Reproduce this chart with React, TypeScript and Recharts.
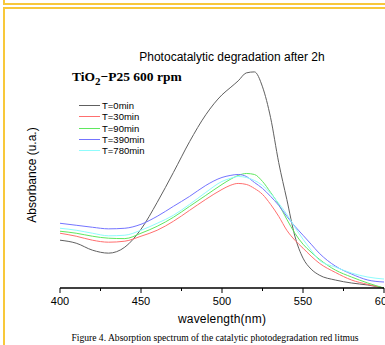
import { LineChart, Line, XAxis, YAxis } from 'recharts';

const wavelengths = [
  400, 410, 420, 430, 440, 450, 460, 470, 480, 490, 500, 505, 510, 515, 520,
  525, 530, 535, 540, 545, 550, 555, 560, 570, 580, 590, 600,
];

const t0 = [
  0.24, 0.225, 0.19, 0.175, 0.205, 0.295, 0.43, 0.58, 0.735, 0.87, 0.97, 1.005,
  1.04, 1.08, 1.085, 1.01, 0.855, 0.63, 0.445, 0.26, 0.15, 0.095, 0.065, 0.04,
  0.025, 0.015, 0.0,
];
const t30 = [
  0.275, 0.26, 0.24, 0.23, 0.235, 0.26, 0.29, 0.335, 0.39, 0.445, 0.495, 0.515,
  0.525, 0.52, 0.5, 0.47, 0.42, 0.36, 0.29, 0.24, 0.2, 0.16, 0.125, 0.078,
  0.04, 0.018, 0.0,
];
const t90 = [
  0.285, 0.275, 0.26, 0.25, 0.248, 0.275, 0.31, 0.355, 0.41, 0.465, 0.52,
  0.545, 0.565, 0.575, 0.57, 0.535, 0.48, 0.42, 0.345, 0.275, 0.22, 0.18,
  0.145, 0.09, 0.055, 0.025, 0.0,
];
const t390 = [
  0.325, 0.315, 0.305, 0.297, 0.3, 0.32, 0.36, 0.41, 0.46, 0.515, 0.555, 0.565,
  0.57, 0.56, 0.53, 0.5, 0.46, 0.415, 0.36, 0.31, 0.265, 0.22, 0.175, 0.11,
  0.07, 0.04, 0.03,
];
const t780 = [
  0.3, 0.29, 0.275, 0.262, 0.265, 0.29, 0.325, 0.365, 0.42, 0.48, 0.535, 0.55,
  0.56, 0.555, 0.54, 0.515, 0.475, 0.425, 0.37, 0.305, 0.245, 0.19, 0.14,
  0.105, 0.075, 0.055, 0.045,
];

const xTicks = [400, 425, 450, 475, 500, 525, 550, 575, 600];
const majorTicks = [400, 450, 500, 550, 600];

const series = [
  { key: 't0', name: 'T=0min', color: '#606060' },
  { key: 't30', name: 'T=30min', color: '#ff6f6f' },
  { key: 't90', name: 'T=90min', color: '#5fe85f' },
  { key: 't390', name: 'T=390min', color: '#7474ff' },
  { key: 't780', name: 'T=780min', color: '#8ffcfc' },
];

const data = wavelengths.map((w, i) => ({
  w,
  t0: t0[i],
  t30: t30[i],
  t90: t90[i],
  t390: t390[i],
  t780: t780[i],
}));

const sans = '"Liberation Sans", Arial, sans-serif';
const serif = '"Liberation Serif", "Times New Roman", serif';
const frame = '#f8c83a';

function XTick(props: any) {
  const { x, y, payload } = props;
  const major = majorTicks.includes(payload.value);
  return (
    <g>
      <line x1={x} x2={x} y1={y - 8} y2={y - 8 + (major ? 5 : 3)} stroke="#000" strokeWidth={1} />
      {major && (
        <text x={x} y={y + 9} textAnchor="middle" fontSize={11} fontFamily={sans} fill="#000">
          {payload.value}
        </text>
      )}
    </g>
  );
}

// legend drawn as a plain overlay so it doesn't eat plot space
function SeriesLegend() {
  return (
    <div style={{ position: 'absolute', left: 79, top: 100, fontFamily: sans, fontSize: 9.5, color: '#000' }}>
      {series.map((s) => (
        <div key={s.key} style={{ display: 'flex', alignItems: 'center', height: 11.3 }}>
          <div style={{ width: 21, height: 1, background: s.color, marginRight: 2 }} />
          <span>{s.name}</span>
        </div>
      ))}
    </div>
  );
}

export default function App() {
  return (
    <div style={{ position: 'absolute', left: 0, top: 0, width: 385, height: 345, background: '#fff', overflow: 'hidden' }}>
      {/* frame pieces */}
      <div style={{ position: 'absolute', left: 3, top: 0, width: 2, height: 5, background: frame }} />
      <div style={{ position: 'absolute', left: 3, top: 3, width: 382, height: 2, background: frame }} />
      <div style={{ position: 'absolute', left: 3, top: 7, width: 382, height: 2, background: frame }} />
      <div style={{ position: 'absolute', left: 3, top: 7, width: 2, height: 338, background: frame }} />

      <LineChart
        width={385}
        height={345}
        data={data}
        margin={{ top: 49, right: 1, bottom: 56, left: 60 }}
        style={{ position: 'absolute', left: 0, top: 0 }}
      >
        <XAxis
          dataKey="w"
          type="number"
          domain={[400, 600]}
          ticks={xTicks}
          interval={0}
          tickLine={false}
          tick={<XTick />}
          axisLine={{ stroke: '#000', strokeWidth: 1.5 }}
          height={1}
        />
        <YAxis hide domain={[0, 1.2]} />
        {series.map((s) => (
          <Line
            key={s.key}
            type="monotone"
            dataKey={s.key}
            name={s.name}
            stroke={s.color}
            strokeWidth={1}
            dot={false}
            isAnimationActive={false}
          />
        ))}
      </LineChart>

      <SeriesLegend />
      <div style={{ position: 'absolute', left: 0, width: 464, top: 50, textAlign: 'center', fontFamily: sans, fontSize: 12 }}>
        Photocatalytic degradation after 2h
      </div>
      <div style={{ position: 'absolute', left: 72, top: 69, fontFamily: serif, fontWeight: 'bold', fontSize: 13.5 }}>
        TiO<sub style={{ fontSize: 11, verticalAlign: -4 }}>2</sub>−P25 600 rpm
      </div>
      <div
        style={{
          position: 'absolute',
          left: 32,
          top: 175,
          transform: 'translate(-50%, -50%) rotate(-90deg)',
          whiteSpace: 'nowrap',
          fontFamily: sans,
          fontSize: 12,
        }}
      >
        Absorbance (u.a.)
      </div>
      <div style={{ position: 'absolute', left: 0, width: 444, top: 312, textAlign: 'center', fontFamily: sans, fontSize: 12, letterSpacing: 0.2 }}>
        wavelength(nm)
      </div>
      <div style={{ position: 'absolute', left: 0, width: 430, top: 332, textAlign: 'center', fontFamily: serif, fontSize: 9.6 }}>
        Figure 4. Absorption spectrum of the catalytic photodegradation red litmus
      </div>
    </div>
  );
}
